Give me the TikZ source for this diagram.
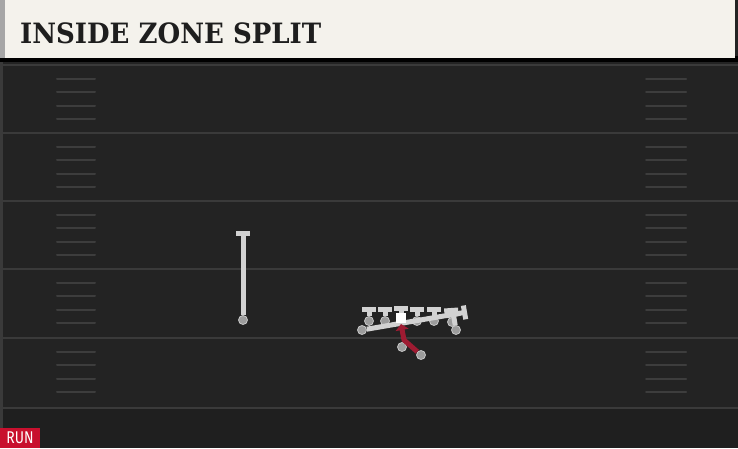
\documentclass[tikz,border=0pt]{standalone}
\usepackage{fontspec}
\newfontfamily\titlefont{DejaVu Serif}
\newfontfamily\tagfont{Fira Sans}
\usetikzlibrary{arrows.meta}

\definecolor{field}{HTML}{232323}
\definecolor{fieldlow}{HTML}{1F1F1F}
\definecolor{yardline}{HTML}{3A3A3A}
\definecolor{hashmark}{HTML}{3D3D3D}
\definecolor{paper}{HTML}{F4F2EC}
\definecolor{ink}{HTML}{1E1E1E}
\definecolor{route}{HTML}{D2D2D2}
\definecolor{dot}{HTML}{9C9C9C}
\definecolor{crimson}{HTML}{9E1B32}
\definecolor{tagred}{HTML}{C8102E}

\tikzset{
  plr/.style={circle, fill=dot, draw=route!80!dot, line width=.8pt, inner sep=0pt, minimum size=9pt},
  blk/.style={draw=route, line width=5pt, -{Bar[width=14pt,length=4.5pt]}},
  run/.style={draw=crimson, line width=5pt, line join=round, -{Triangle[length=6pt,width=13pt]}}
}

\begin{document}
\begin{tikzpicture}[x=1pt,y=-1pt]
        \useasboundingbox (0,0) rectangle (738,448);

        % field
        \fill[field] (0,0) rectangle (738,448);
        \fill[fieldlow] (0,408) rectangle (738,448);
        \fill[yardline] (0,0) rectangle (3,448);
        \foreach \y in {65,133,201,269,338,408}
          \draw[yardline, line width=2pt] (0,\y) -- (738,\y);
        \foreach \y in {65,133,201,269,338}
          \foreach \k in {1,2,3,4} {
            \draw[hashmark, line width=2pt, line cap=round] (57,\y+13.6*\k) -- (95,\y+13.6*\k);
            \draw[hashmark, line width=2pt, line cap=round] (646,\y+13.6*\k) -- (686,\y+13.6*\k);
          }

        % title bar
        \fill[black] (0,56) rectangle (738,62);
        \fill[paper] (0,0) rectangle (735,58);
        \fill[black!35] (0,0) rectangle (5,58);
        \node[anchor=base west, inner sep=0pt, text=ink, xscale=.93]
          (title) at (20,43) {\titlefont\bfseries\fontsize{28}{28}\selectfont INSIDE ZONE SPLIT};

        % tag
        \fill[tagred] (0,428) rectangle (40,448);
        \node[anchor=base, inner sep=0pt, text=white]
          (tag) at (20,443.5) {\tagfont\fontsize{17}{17}\selectfont\scalebox{.82}[1]{RUN}};

        % block points
        \coordinate (wrT) at (243,231);
        \coordinate (1T) at (369,307);
        \coordinate (2T) at (385,307);
        \coordinate (3T) at (401,306);
        \coordinate (4T) at (417,307);
        \coordinate (5T) at (434,307);
        \coordinate (6T) at (451,308);
        \coordinate (7T) at (453,312);
        \coordinate (hT) at (467,312);
        \coordinate (bend) at (404,340);
        \coordinate (hole) at (401,324);

        \begin{scope}[every node/.style={plr}]
          \node (wr) at (243,320) {};
          \node (1)  at (369,321) {};
          \node (2)  at (385,321) {};
          \node (4)  at (417,321) {};
          \node (5)  at (434,321) {};
          \node (6)  at (452,322) {};
          \node (7)  at (456,330) {};
          \node (h)  at (362,330) {};
          \node (qb) at (402,347) {};
          \node (rb) at (421,355) {};
        \end{scope}

        \path[blk] (wr) edge (wrT);
        \path[blk] (1) edge (1T);
        \path[blk] (2) edge (2T);
        \path[blk] (4) edge (4T);
        \path[blk] (5) edge (5T);
        \path[blk] (6) edge (6T);
        \path[blk] (7) edge (7T);
        \draw[blk] (401,318) -- (3T);
        \draw[blk] (h) -- (hT);

        \node[fill=white, inner sep=0pt, minimum size=10pt] (c) at (401,318) {};

        \draw[run] (rb) -- (bend) -- (hole);

      \end{tikzpicture}
\end{document}
